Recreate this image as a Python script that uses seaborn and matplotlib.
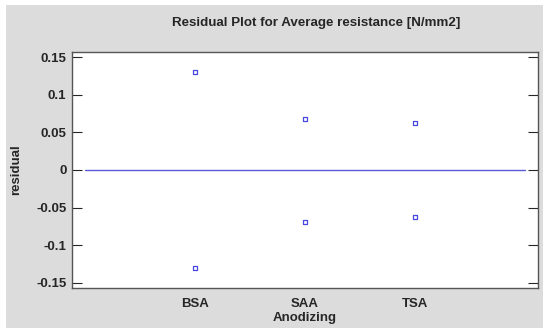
import matplotlib
matplotlib.use("Agg")
import matplotlib.pyplot as plt
import seaborn as sns
import pandas as pd
from matplotlib.patches import Rectangle

categories = ["BSA", "SAA", "TSA"]
residual_upper = [0.131, 0.068, 0.063]
residual_lower = [-0.131, -0.069, -0.063]

sns.set_style("white")
plt.rcParams["font.family"] = ["Liberation Sans", "DejaVu Sans"]

df = pd.DataFrame({
    "pos": [1, 2, 3] * 2,
    "residual": residual_upper + residual_lower,
})

W, H = 550, 336
fig = plt.figure(figsize=(5.5, 3.36), dpi=100)
fig.patch.set_facecolor("white")
fig.patches.append(Rectangle((6 / W, 1 - 328 / H), 537 / W, 323 / H,
                             transform=fig.transFigure, facecolor="#dcdcdc",
                             edgecolor="none", zorder=-10))

ax = fig.add_axes([72 / W, 1 - 288 / H, 466 / W, 236 / H])
ax.set_facecolor("white")

ax.plot([0, 4], [0, 0], color="#5a5ad8", lw=1.0, zorder=1)
sns.scatterplot(data=df, x="pos", y="residual", ax=ax, marker="s", s=8,
                facecolor="none", edgecolor="#4848e0", linewidth=0.9, zorder=3)

ax.set_xlim(-0.12, 4.12)
ax.set_ylim(-0.157, 0.157)
ax.set_xticks([1, 2, 3])
ax.set_xticklabels(categories, fontsize=9.5, fontweight="bold")
ax.set_yticks([-0.15, -0.1, -0.05, 0, 0.05, 0.1, 0.15])
ax.set_yticklabels(["-0.15", "-0.1", "-0.05", "0", "0.05", "0.1", "0.15"],
                   fontsize=9.5, fontweight="bold")
ax.tick_params(axis="y", direction="in", length=7, width=0.8, left=True, right=True, pad=4)
ax.tick_params(axis="x", length=0, pad=7)
for s in ax.spines.values():
    s.set_color("#555555")
    s.set_linewidth(1.0)

ax.set_xlabel("")
ax.set_ylabel("")
fig.text(316 / W, 1 - 23 / H, "Residual Plot for Average resistance [N/mm2]",
         ha="center", va="center", fontsize=9.6, fontweight="bold")
fig.text(305 / W, 1 - 318 / H, "Anodizing", ha="center", va="center",
         fontsize=9.5, fontweight="bold")
fig.text(16 / W, 1 - 170 / H, "residual", ha="center", va="center",
         rotation=90, fontsize=9.5, fontweight="bold")

fig.savefig("out.png", dpi=100)
